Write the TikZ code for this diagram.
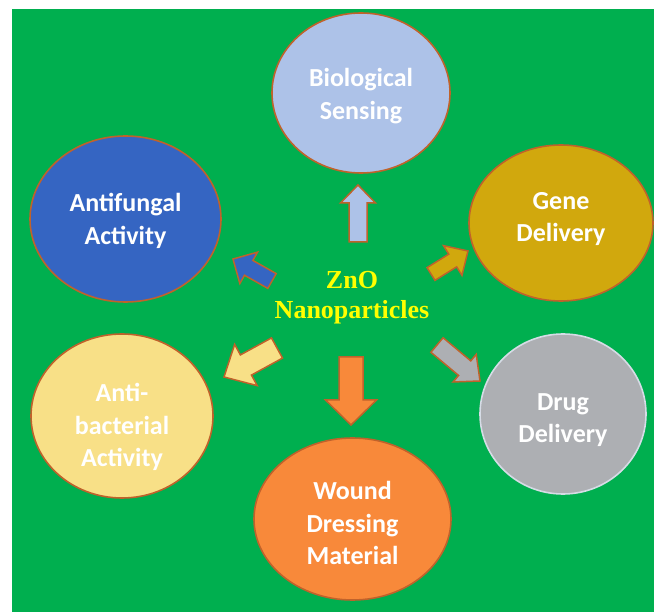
\documentclass[tikz,border=0pt]{standalone}
\usepackage{fontspec}
\setmainfont{Carlito}
\newfontfamily\tnrfont{Liberation Serif}
\usetikzlibrary{shapes.geometric,calc}
\definecolor{bggreen}{HTML}{00AF4F}
\definecolor{rim}{HTML}{C0622B}
\definecolor{drugrim}{HTML}{D6DCE6}
\definecolor{biofill}{HTML}{ADC2E8}
\definecolor{genefill}{HTML}{D1A80D}
\definecolor{drugfill}{HTML}{ADAFB3}
\definecolor{woundfill}{HTML}{F8893A}
\definecolor{fungfill}{HTML}{3565C2}
\definecolor{bactfill}{HTML}{F8E087}
\definecolor{znoyellow}{HTML}{FFFF00}
\tikzset{
  bubble/.style={ellipse, draw=rim, line width=1.6pt, inner sep=0pt},
  bubbletext/.style={text=white, font=\bfseries\fontsize{26}{32.5}\selectfont, align=center},
  arrowline/.style={draw=rim, line width=1.5pt, line join=miter},
}
\newcommand{\blockarrow}[6]{%
  \coordinate (hb) at ($(#3)!#6!(#2)$);
  \draw[arrowline, fill=#1]
    ($(#2)!#4!90:(#3)$) -- ($(hb)!#4!90:(#3)$) -- ($(hb)!#5!90:(#3)$) -- (#3)
    -- ($(hb)!#5!-90:(#3)$) -- ($(hb)!#4!-90:(#3)$) -- ($(#2)!#4!-90:(#3)$) -- cycle;
}
\begin{document}
\begin{tikzpicture}[x=1pt,y=-1pt]
\useasboundingbox (0,0) rectangle (654,612);
\fill[white] (0,0) rectangle (654,612);
\fill[bggreen] (12,9) rectangle (654,612);

\node[bubble, fill=biofill, minimum width=178pt, minimum height=160pt] (bio) at (361,93) {};
\node[bubble, fill=genefill, minimum width=184pt, minimum height=156pt] (gene) at (561,223) {};
\node[bubble, fill=drugfill, draw=drugrim, minimum width=166pt, minimum height=160pt] (drug) at (563,414) {};
\node[bubble, fill=woundfill, minimum width=197pt, minimum height=162pt] (wound) at (352.5,519) {};
\node[bubble, fill=bactfill, minimum width=182pt, minimum height=164pt] (bact) at (122,416) {};
\node[bubble, fill=fungfill, minimum width=191pt, minimum height=166pt] (fung) at (125.5,219) {};

\node[bubbletext] (biotext) at (361,96) {Biological\\Sensing};
\node[bubbletext] (genetext) at (561,219) {Gene\\Delivery};
\node[bubbletext] (drugtext) at (563,420) {Drug\\Delivery};
\node[bubbletext] (woundtext) at (352.5,523) {Wound\\Dressing\\Material};
\node[bubbletext] (bacttext) at (122,427) {Anti-\\bacterial\\Activity};
\node[bubbletext] (fungtext) at (125.5,221) {Antifungal\\Activity};

\node[text=znoyellow, font=\tnrfont\bfseries\fontsize{26}{30}\selectfont, align=center] (zno) at (352,298) {ZnO\\Nanoparticles};

\coordinate (bioT) at (358,242);  \coordinate (bioH) at (358,185);
\coordinate (geneT) at (431,274); \coordinate (geneH) at (468,251);
\coordinate (drugT) at (437,345); \coordinate (drugH) at (480,381);
\coordinate (woundT) at (351,357); \coordinate (woundH) at (351,425);
\coordinate (bactT) at (277,348); \coordinate (bactH) at (224,377);
\coordinate (fungT) at (272,281); \coordinate (fungH) at (233,259);

\blockarrow{biofill}{bioT}{bioH}{9pt}{17.5pt}{18pt}
\blockarrow{genefill}{geneT}{geneH}{7.5pt}{17.5pt}{18pt}
\blockarrow{drugfill}{drugT}{drugH}{9.5pt}{18pt}{20pt}
\blockarrow{woundfill}{woundT}{woundH}{12pt}{25.5pt}{25pt}
\blockarrow{bactfill}{bactT}{bactH}{11.5pt}{23.5pt}{25pt}
\blockarrow{fungfill}{fungT}{fungH}{8.5pt}{18pt}{18pt}
\end{tikzpicture}
\end{document}
